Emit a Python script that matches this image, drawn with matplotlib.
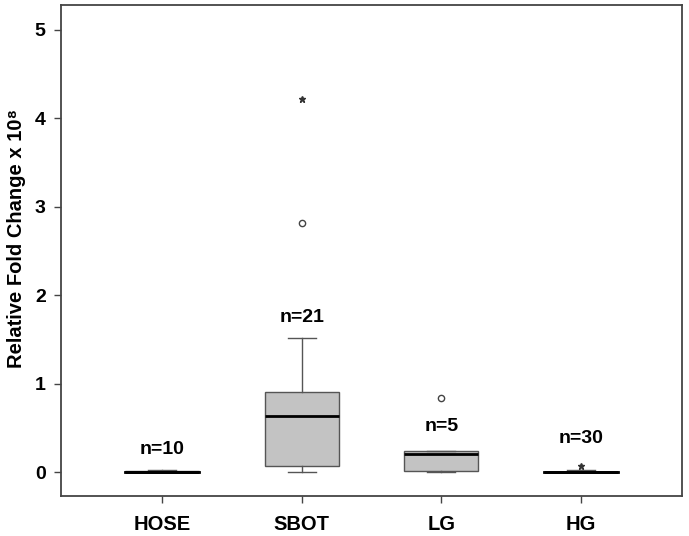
import matplotlib.pyplot as plt

# === Data ===
groups = ["HOSE", "SBOT", "LG", "HG"]
n_labels = ["n=10", "n=21", "n=5", "n=30"]
q1 = [0.0, 0.07, 0.01, 0.0]
medians = [0.0, 0.63, 0.21, 0.0]
q3 = [0.01, 0.91, 0.235, 0.005]
whislo = [0.0, 0.0, 0.0, 0.0]
whishi = [0.02, 1.52, 0.235, 0.02]
mild_outliers = [[], [2.82], [0.84], []]      # drawn as circles
extreme_outliers = [[], [4.22], [], [0.07]]   # drawn as stars
label_y = [0.25, 1.75, 0.51, 0.38]

plt.rcParams['font.family'] = ['Liberation Sans', 'DejaVu Sans']

fig = plt.figure(figsize=(6.89, 5.36), dpi=100)
ax = fig.add_axes([61 / 689, 40 / 536, 621 / 689, 491 / 536])

positions = list(range(1, len(groups) + 1))
stats = []
for i in range(len(groups)):
    stats.append({"med": medians[i], "q1": q1[i], "q3": q3[i],
                  "whislo": whislo[i], "whishi": whishi[i], "fliers": []})

ax.bxp(stats, positions=positions, widths=0.53, patch_artist=True,
       showfliers=False,
       boxprops=dict(facecolor="#c3c3c3", edgecolor="#555555", linewidth=1.0),
       medianprops=dict(color="black", linewidth=2.0),
       whiskerprops=dict(color="#555555", linewidth=1.0),
       capprops=dict(color="#555555", linewidth=1.0),
       capwidths=0.2)

# flat groups: heavier black line at zero
for i in range(len(groups)):
    if q3[i] - q1[i] < 0.05:
        ax.plot([positions[i] - 0.265, positions[i] + 0.265], [medians[i]] * 2,
                color="black", linewidth=2.0, zorder=3)

# outliers
for i in range(len(groups)):
    for v in mild_outliers[i]:
        ax.plot(positions[i], v, marker="o", markersize=4.5, markerfacecolor="white",
                markeredgecolor="#444444", markeredgewidth=1.0, linestyle="none")
    for v in extreme_outliers[i]:
        ax.plot(positions[i], v, marker="*", markersize=5, color="#333333",
                linestyle="none")

# n labels
for i in range(len(groups)):
    ax.text(positions[i], label_y[i], n_labels[i], ha="center", va="center",
            fontsize=14, fontweight="bold")

ax.set_xlim(0.277, 4.723)
ax.set_ylim(-0.27, 5.28)
ax.set_xticks(positions)
ax.set_xticklabels(groups, fontsize=14.5, fontweight="bold")
ax.set_yticks([0, 1, 2, 3, 4, 5])
ax.set_yticklabels(["0", "1", "2", "3", "4", "5"], fontsize=14, fontweight="bold")

# y label placed by hand, a little above the axes centre like the reference
fig.text(17 / 689, 1 - 239 / 536, "Relative Fold Change x 10\u2078", rotation=90,
         ha="center", va="center", fontsize=14.5, fontweight="bold")

for s in ax.spines.values():
    s.set_color("#444444")
    s.set_linewidth(1.3)
ax.tick_params(direction="out", length=5, width=1.0, color="#444444", pad=6)
ax.tick_params(axis="x", pad=9)

fig.savefig("out.png", dpi=100)
